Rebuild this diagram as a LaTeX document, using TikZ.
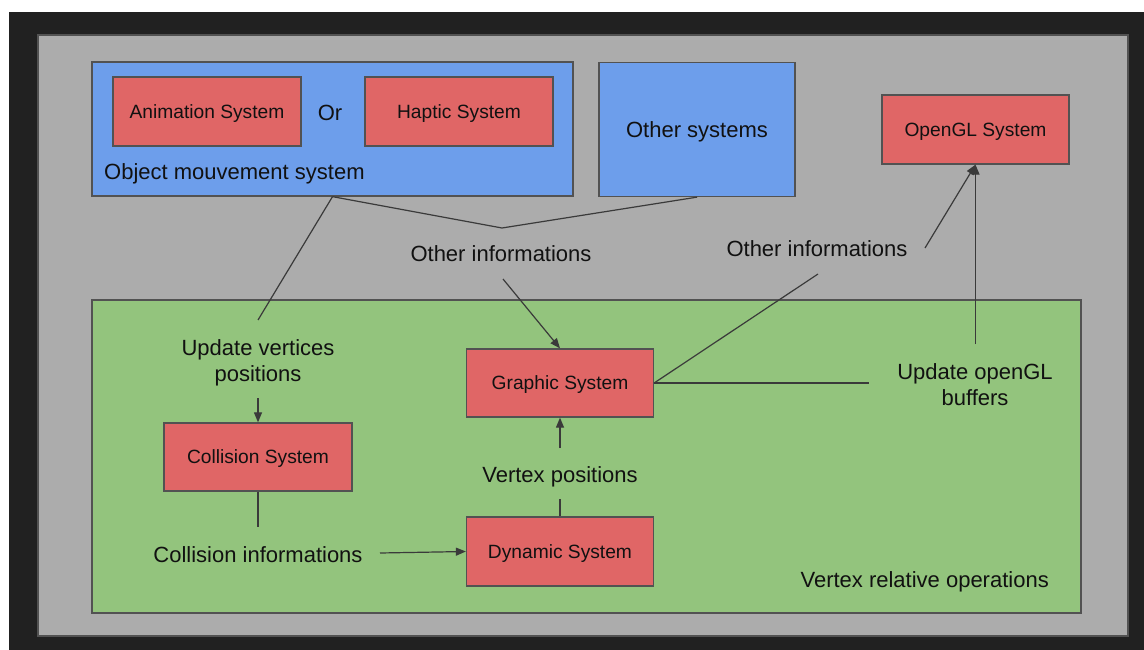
\documentclass[tikz,border=0pt]{standalone}
\usepackage{fontspec}
\setmainfont{Liberation Sans}
\usetikzlibrary{arrows.meta}

\definecolor{frame}{HTML}{212121}
\definecolor{panel}{HTML}{ACACAC}
\definecolor{sysblue}{HTML}{6D9EEB}
\definecolor{sysred}{HTML}{E06666}
\definecolor{sysgreen}{HTML}{93C47D}
\definecolor{edge}{HTML}{525252}
\definecolor{wire}{HTML}{3A3A3A}
\definecolor{ink}{HTML}{111111}

\tikzset{
  area/.style={draw=edge, line width=1.3pt, inner sep=0pt},
  groupbox/.style={area, fill=sysblue},
  opsbox/.style={area, fill=sysgreen},
  sysbox/.style={area, fill=sysred, text=ink, text height=13.6pt, text depth=0pt,
    font=\fontsize{19.2pt}{23pt}\selectfont},
  lbl/.style={text=ink, inner sep=0pt, align=center,
    font=\fontsize{22pt}{26pt}\selectfont},
  wireline/.style={draw=wire, line width=1.2pt},
  arr/.style={wireline, -{Triangle[length=10pt,width=8pt]}},
}

\begin{document}
\begin{tikzpicture}[x=1pt,y=-1pt]
  % canvas and frame
  \useasboundingbox (0,0) rectangle (1144,650);
  \fill[white] (0,0) rectangle (1144,650);
  \fill[frame] (9,12) rectangle (1144,650);
  \filldraw[fill=panel, draw=edge, line width=1.3pt] (38,35) rectangle (1128,636);

  % group containers
  \node[groupbox, minimum width=481pt, minimum height=134pt] (omove) at (332.5,129) {};
  \node[groupbox, minimum width=196pt, minimum height=134pt, text=ink,
        text height=15.8pt, text depth=0pt,
        font=\fontsize{22pt}{26pt}\selectfont] (other) at (697,129.5) {Other systems};
  \node[opsbox, minimum width=989pt, minimum height=313pt] (ops) at (586.5,456.5) {};

  % systems
  \node[sysbox, minimum width=188pt, minimum height=69pt] (anim) at (207,111.5) {Animation System};
  \node[sysbox, minimum width=188pt, minimum height=69pt] (haptic) at (459,111.5) {Haptic System};
  \node[sysbox, minimum width=187pt, minimum height=69pt] (opengl) at (975.5,129.5) {OpenGL System};
  \node[sysbox, minimum width=187pt, minimum height=68pt] (graphic) at (560,383) {Graphic System};
  \node[sysbox, minimum width=188pt, minimum height=68pt] (collision) at (258,457) {Collision System};
  \node[sysbox, minimum width=187pt, minimum height=69pt] (dynamic) at (560,551.5) {Dynamic System};

  % labels
  \node[lbl] (or) at (330,113) {Or};
  \node[lbl, anchor=base west] (omovetitle) at (104,179) {Object mouvement system};
  \node[lbl, anchor=base east] (opstitle) at (1049,587) {Vertex relative operations};
  \node[lbl] (info1) at (501,254) {Other informations};
  \node[lbl] (info2) at (817,249) {Other informations};
  \node[lbl] (updv) at (258,363) {Update vertices\\positions};
  \node[lbl] (updgl) at (975,385) {Update openGL\\buffers};
  \node[lbl] (vpos) at (560,477) {Vertex positions};
  \node[lbl] (cinfo) at (258,555) {Collision informations};

  % connector end points
  \coordinate (merge) at (502,228);
  \coordinate (updvtop) at (258,320);
  \coordinate (updvbot) at (258,398);
  \coordinate (info1tail) at (503,279);
  \coordinate (info2tail) at (925,248);
  \coordinate (info2line) at (818,274);
  \coordinate (updgltop) at (975.5,344);
  \coordinate (updglleft) at (869,383);
  \coordinate (cinfotop) at (258,527);
  \coordinate (cinforight) at (380,553);
  \coordinate (vposbot) at (560,499);
  \coordinate (vpostop) at (560,448);

  % connectors
  \draw[wireline] (updvtop) -- (omove.south);
  \draw[wireline] (omove.south) -- (merge) -- (other.south);
  \draw[arr] (info1tail) -- (graphic.north);
  \draw[arr] (updvbot) -- (collision.north);
  \draw[wireline] (collision.south) -- (cinfotop);
  \draw[arr] (cinforight) -- (dynamic.west);
  \draw[wireline] (dynamic.north) -- (vposbot);
  \draw[arr] (vpostop) -- (graphic.south);
  \draw[wireline] (graphic.east) -- (updglleft);
  \draw[wireline] (graphic.east) -- (info2line);
  \draw[arr] (updgltop) -- (opengl.south);
  \draw[arr] (info2tail) -- (opengl.south);
\end{tikzpicture}
\end{document}
